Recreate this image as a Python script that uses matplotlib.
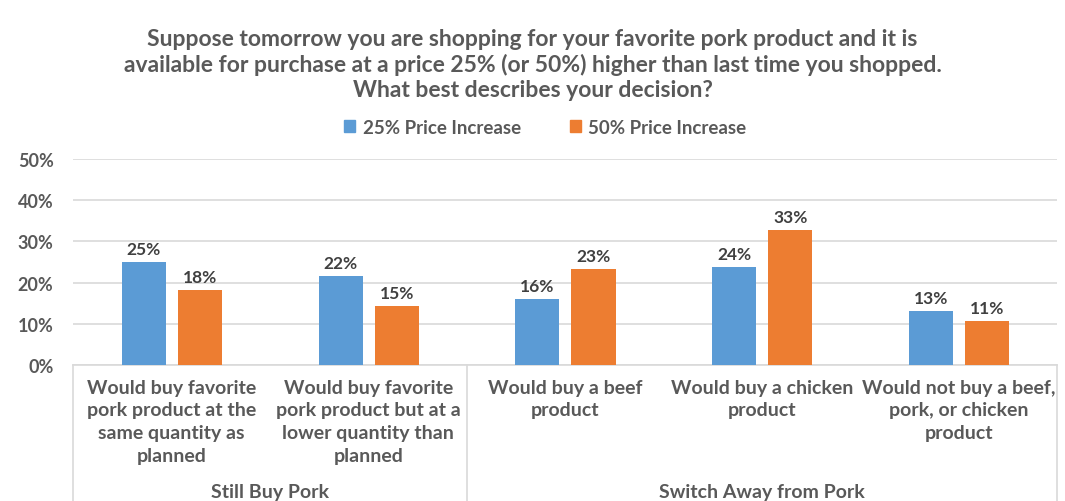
import numpy as np
import matplotlib.pyplot as plt
from matplotlib.patches import Patch

categories = [
    "Would buy favorite\npork product at the\nsame quantity as\nplanned",
    "Would buy favorite\npork product but at a\nlower quantity than\nplanned",
    "Would buy a beef\nproduct",
    "Would buy a chicken\nproduct",
    "Would not buy a beef,\npork, or chicken\nproduct",
]
groups = ["Still Buy Pork", "Switch Away from Pork"]
group_sizes = [2, 3]
series_names = ["25% Price Increase", "50% Price Increase"]
pct25 = [0.251, 0.215, 0.161, 0.237, 0.132]
pct50 = [0.183, 0.144, 0.232, 0.327, 0.107]
labels25 = ["25%", "22%", "16%", "24%", "13%"]
labels50 = ["18%", "15%", "23%", "33%", "11%"]

blue = "#5B9BD5"
orange = "#ED7D31"
gray = "#595959"
plt.rcParams['font.family'] = ['Lato', 'DejaVu Sans']

fig = plt.figure(figsize=(10.65, 5.02), dpi=100)
ax = fig.add_axes([73 / 1065, 1 - 366 / 502, (1057 - 73) / 1065, (366 - 160) / 502])

x = np.arange(len(categories))
w = 0.224
b1 = ax.bar(x - 0.14, pct25, w, color=blue, zorder=3)
b2 = ax.bar(x + 0.145, pct50, w, color=orange, zorder=3)

for bars, labs in [(b1, labels25), (b2, labels50)]:
    for r, t in zip(bars, labs):
        ax.text(r.get_x() + r.get_width() / 2, r.get_height() + 0.012, t,
                ha="center", va="bottom", fontsize=12.5, fontweight="bold", color="#404040")

ax.set_xlim(-0.5, len(categories) - 0.5)
ax.set_ylim(0, 0.5)
ax.set_yticks(np.arange(0, 0.51, 0.1))
ax.set_yticklabels([f"{int(v * 100)}%" for v in np.arange(0, 0.51, 0.1)])
ax.tick_params(axis="y", length=0, pad=14, labelsize=13, labelcolor=gray)
for lab in ax.get_yticklabels():
    lab.set_fontweight("bold")
ax.set_xticks([])
ax.grid(axis="y", color="#D9D9D9", linewidth=1.2, zorder=0)
for s in ["top", "right", "left"]:
    ax.spines[s].set_visible(False)
ax.spines["bottom"].set_color("#D9D9D9")
ax.spines["bottom"].set_linewidth(1.2)

# category labels
for i, c in enumerate(categories):
    ax.text(i, -0.033, c, ha="center", va="top", fontsize=14, fontweight="bold",
            color=gray, linespacing=1.42)

# group labels and separators
start = -0.5
bottom = -0.335
ax.plot([start, start], [0, bottom], color="#D9D9D9", lw=1.2, clip_on=False)
for g, n in zip(groups, group_sizes):
    end = start + n
    ax.plot([end, end], [0, bottom], color="#D9D9D9", lw=1.2, clip_on=False)
    ax.text((start + end) / 2, -0.307, g, ha="center", va="center", fontsize=14,
            fontweight="bold", color=gray)
    start = end

fig.suptitle("Suppose tomorrow you are shopping for your favorite pork product and it is\n"
             "available for purchase at a price 25% (or 50%) higher than last time you shopped.\n"
             "What best describes your decision?",
             y=1 - 29 / 502, va="top", fontsize=16.5, fontweight="bold", color=gray,
             linespacing=1.24)

handles = [Patch(color=blue), Patch(color=orange)]
leg = fig.legend(handles, series_names, loc="center", bbox_to_anchor=(0.512, 1 - 128 / 502),
                 ncol=2, frameon=False, handlelength=0.6, handleheight=0.6,
                 columnspacing=2.6, handletextpad=0.4, fontsize=13.5)
for t in leg.get_texts():
    t.set_color(gray)
    t.set_fontweight("bold")

fig.savefig("out.png", dpi=100)
